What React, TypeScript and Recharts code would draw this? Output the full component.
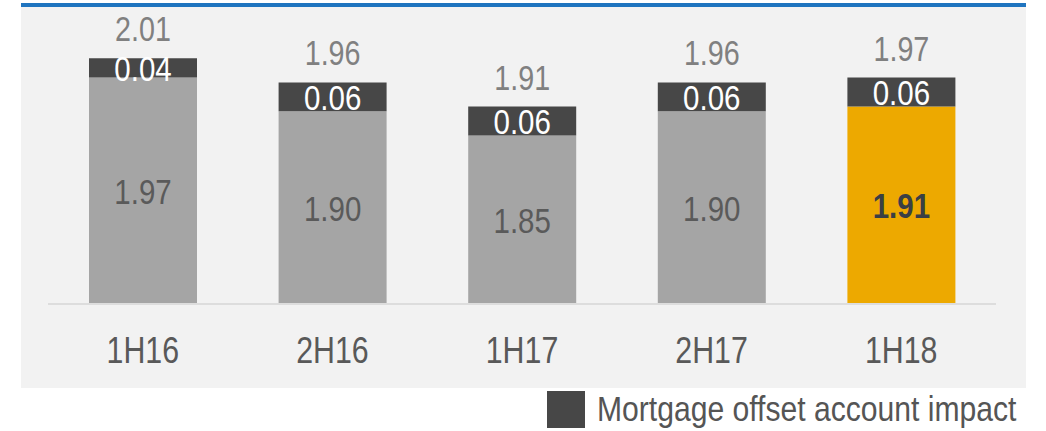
import { BarChart, Bar, XAxis, YAxis, LabelList, Legend, Cell } from 'recharts';

const categories = ['1H16', '2H16', '1H17', '2H17', '1H18'];
const baseValues = [1.97, 1.9, 1.85, 1.9, 1.91];
const offsetValues = [0.04, 0.06, 0.06, 0.06, 0.06];
const totalValues = [2.01, 1.96, 1.91, 1.96, 1.97];
const highlightIndex = 4;

const FONT = '"Liberation Sans", Arial, sans-serif';
const SQUEEZE = 0.82; // condensed look of the original face
const GRAY = '#a5a5a5';
const DARK = '#474747';
const ORANGE = '#eda900';

const PLOT_TOP = 15;
const PLOT_BOTTOM = 304;

const data = categories.map((name, i) => ({
  name,
  base: baseValues[i],
  offset: offsetValues[i],
  total: totalValues[i],
}));

function NarrowText({ x, y, children, ...rest }: any) {
  return (
    <text transform={`translate(${x},${y}) scale(${SQUEEZE},1)`} textAnchor="middle" fontFamily={FONT} {...rest}>
      {children}
    </text>
  );
}

// label centred on the visible (clipped) part of the base bar
function BaseLabel(props: any) {
  const { x, y, width, height, value, index } = props;
  const top = Math.max(y, PLOT_TOP);
  const bottom = Math.min(y + height, PLOT_BOTTOM);
  const hi = index === highlightIndex;
  return (
    <NarrowText
      x={x + width / 2}
      y={(top + bottom) / 2 + 13}
      fontSize={36}
      fontWeight={hi ? 700 : 400}
      fill={hi ? '#3a3f44' : '#5a5a5a'}
    >
      {Number(value).toFixed(2)}
    </NarrowText>
  );
}

function OffsetLabel(props: any) {
  const { x, y, width, height, value } = props;
  return (
    <NarrowText x={x + width / 2} y={y + height / 2 + 13} fontSize={36} fill="#ffffff">
      {Number(value).toFixed(2)}
    </NarrowText>
  );
}

function TotalLabel(props: any) {
  const { x, y, width, value } = props;
  return (
    <NarrowText x={x + width / 2} y={y - 17} fontSize={35} fill="#808080">
      {Number(value).toFixed(2)}
    </NarrowText>
  );
}

function CategoryTick(props: any) {
  const { x, payload } = props;
  return (
    <NarrowText x={x} y={PLOT_BOTTOM + 59} fontSize={37} fill="#595959">
      {payload.value}
    </NarrowText>
  );
}

function LegendContent() {
  return (
    <div style={{ display: 'flex', alignItems: 'center', fontFamily: FONT, whiteSpace: 'nowrap', height: 38 }}>
      <span style={{ display: 'inline-block', width: 38, height: 37, background: DARK, marginRight: 12 }} />
      <span
        style={{
          display: 'inline-block',
          fontSize: 35,
          color: '#555555',
          lineHeight: '38px',
          transform: 'scaleX(0.86)',
          transformOrigin: 'left center',
        }}
      >
        Mortgage offset account impact
      </span>
    </div>
  );
}

export default function App() {
  return (
    <div style={{ position: 'absolute', left: 0, top: 0, width: 1046, height: 431, background: '#ffffff', overflow: 'hidden' }}>
      <div
        style={{
          position: 'absolute',
          left: 21,
          top: 3,
          width: 1005,
          height: 385,
          background: '#f2f2f2',
          borderTop: '4px solid #1f74bf',
          boxSizing: 'border-box',
        }}
      />
      <div style={{ position: 'absolute', left: 0, top: 0 }}>
        <BarChart
          width={1046}
          height={431}
          data={data}
          margin={{ top: PLOT_TOP, right: 50, left: 48, bottom: 0 }}
          barCategoryGap={41}
        >
          <XAxis
            dataKey="name"
            height={431 - PLOT_BOTTOM}
            axisLine={{ stroke: '#dddddd', strokeWidth: 2 }}
            tickLine={false}
            tick={<CategoryTick />}
          />
          <YAxis hide domain={[1.5, 2.1]} allowDataOverflow />
          <Legend
            layout="vertical"
            align="center"
            verticalAlign="middle"
            content={<LegendContent />}
            wrapperStyle={{ left: 547, top: 390, width: 'auto' }}
          />
          <Bar dataKey="base" stackId="a" isAnimationActive={false}>
            {data.map((d, i) => (
              <Cell key={d.name} fill={i === highlightIndex ? ORANGE : GRAY} />
            ))}
            <LabelList dataKey="base" content={<BaseLabel />} />
          </Bar>
          <Bar dataKey="offset" stackId="a" fill={DARK} isAnimationActive={false}>
            <LabelList dataKey="offset" content={<OffsetLabel />} />
            <LabelList dataKey="total" content={<TotalLabel />} />
          </Bar>
        </BarChart>
      </div>
    </div>
  );
}
